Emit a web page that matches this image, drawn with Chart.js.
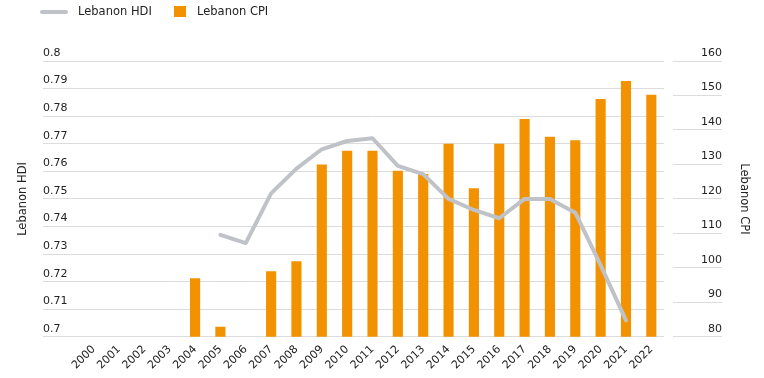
<!DOCTYPE html>
<html lang="en">
<head>
    <meta charset="UTF-8">
    <title>Lebanon HDI and CPI</title>
    <script src="https://cdn.jsdelivr.net/npm/chart.js@4.4.0/dist/chart.umd.min.js"></script>
    <style>
        body {
            margin: 0;
            background: #fff;
            font-family: 'DejaVu Sans', sans-serif;
        }
        .wrap {
            position: relative;
            width: 764px;
            height: 378px;
        }
        .legend {
            position: absolute;
            top: 0;
            left: 0;
            font-size: 11.5px;
            color: #222;
        }
        .legend span {
            position: absolute;
            white-space: nowrap;
            line-height: 23px;
            top: 0;
        }
        .legend .swatch-line {
            top: 9.5px;
            left: 40px;
            width: 28px;
            height: 4px;
            border-radius: 2px;
            background: #bfc3c8;
        }
        .legend .swatch-bar {
            top: 6px;
            left: 174px;
            width: 12px;
            height: 11px;
            background: #f39200;
        }
    </style>
</head>
<body>

<div class="wrap">
    <canvas id="chart"></canvas>
    <div class="legend">
        <span class="swatch-line"></span>
        <span style="left:78px">Lebanon HDI</span>
        <span class="swatch-bar"></span>
        <span style="left:197px">Lebanon CPI</span>
    </div>
</div>

<script>
    // data
    const years = ['2000', '2001', '2002', '2003', '2004', '2005', '2006', '2007', '2008', '2009', '2010',
        '2011', '2012', '2013', '2014', '2015', '2016', '2017', '2018', '2019', '2020', '2021', '2022'];

    const hdi = [null, null, null, null, null, 0.737, 0.734, 0.752, 0.761, 0.768, 0.771,
        0.772, 0.762, 0.759, 0.750, 0.746, 0.743, 0.750, 0.750, 0.745, 0.726, 0.706, null];

    const cpi = [null, null, null, null, 97.0, 82.9, null, 99.0, 101.9, 130.0, 134.0,
        134.0, 128.2, 127.2, 136.0, 123.1, 136.0, 143.2, 138.0, 137.0, 149.0, 154.2, 150.2];

    Chart.defaults.font.family = "'DejaVu Sans', sans-serif";
    Chart.defaults.font.size = 11;
    Chart.defaults.color = '#222';

    const gridColor = '#dcdcdc';
    const titleFont = { family: "'DejaVu Sans', sans-serif", size: 11.5 };

    // empty scale used only to hold an axis title or a gap
    function spacer(position, weight, width, title) {
        return {
            type: 'linear',
            position: position,
            weight: weight,
            grid: { display: false, drawTicks: false },
            border: { display: false },
            ticks: { display: false },
            title: { display: !!title, text: title || '', font: titleFont, padding: 0 },
            afterFit: s => { s.width = width; }
        };
    }

    new Chart(document.getElementById('chart'), {
        data: {
            labels: years,
            datasets: [
                {
                    type: 'line',
                    label: 'Lebanon HDI',
                    data: hdi,
                    yAxisID: 'y',
                    borderColor: '#bfc3c8',
                    borderWidth: 4,
                    borderCapStyle: 'round',
                    borderJoinStyle: 'round',
                    pointRadius: 0,
                    tension: 0,
                    order: 0
                },
                {
                    type: 'bar',
                    label: 'Lebanon CPI',
                    data: cpi,
                    yAxisID: 'y1',
                    backgroundColor: '#f39200',
                    categoryPercentage: 1,
                    barPercentage: 0.4,
                    order: 1
                }
            ]
        },
        options: {
            responsive: true,
            maintainAspectRatio: false,
            animation: false,
            layout: {
                padding: { top: 61, left: 16, right: 13, bottom: 0 }
            },
            plugins: {
                legend: { display: false },
                tooltip: { enabled: false }
            },
            scales: {
                x: {
                    grid: { display: false, drawTicks: false },
                    border: { display: false },
                    ticks: {
                        autoSkip: false,
                        maxRotation: 45,
                        minRotation: 45,
                        padding: 6
                    }
                },
                y: {
                    position: 'left',
                    min: 0.7,
                    max: 0.8,
                    grid: { color: gridColor, tickLength: 38 },
                    border: { display: false },
                    ticks: {
                        stepSize: 0.01,
                        crossAlign: 'far',
                        labelOffset: -8,
                        callback: v => String(parseFloat(v.toFixed(2)))
                    },
                    afterFit: s => { s.width = 38; }
                },
                yTitle: spacer('left', 1, 27, 'Lebanon HDI'),
                y1Gap: spacer('right', -1, 9),
                y1: {
                    position: 'right',
                    min: 80,
                    max: 160,
                    grid: { color: gridColor, drawOnChartArea: false, tickLength: 49 },
                    border: { display: false },
                    ticks: {
                        stepSize: 10,
                        crossAlign: 'far',
                        labelOffset: -8
                    },
                    afterFit: s => { s.width = 49; }
                },
                y1Title: spacer('right', 1, 29, 'Lebanon CPI')
            }
        }
    });
</script>

</body>
</html>
